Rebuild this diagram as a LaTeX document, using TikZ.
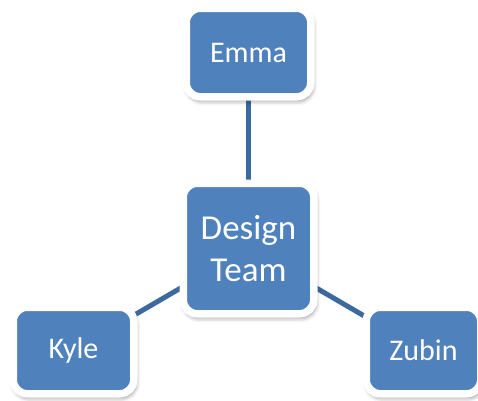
\documentclass[tikz,border=0pt]{standalone}
\usepackage{fontspec}
\setmainfont{Carlito}
\usetikzlibrary{shadows.blur,backgrounds}
\definecolor{boxblue}{HTML}{4F81BD}
\definecolor{linkblue}{HTML}{3C6A9E}
\begin{document}
\begin{tikzpicture}[x=1pt,y=-1pt,
  member/.style={fill=boxblue, draw=white, line width=7.5pt, rounded corners=14pt,
    text=white, font=\fontsize{30}{36}\selectfont, inner sep=0pt, align=center,
    blur shadow={shadow xshift=1.5pt, shadow yshift=-3.5pt, shadow blur radius=5pt, shadow opacity=55}},
  link/.style={draw=linkblue, line width=5pt}]
\useasboundingbox (0,0) rectangle (478,400);

% team members and the team itself
\node[member, minimum width=124.5pt, minimum height=88.5pt] (emma) at (248.5,52.5) {Emma};
\node[member, minimum width=130.5pt, minimum height=130.5pt,
      font=\fontsize{35}{42}\selectfont] (team) at (248.5,248.5) {Design\\Team};
\node[member, minimum width=120.5pt, minimum height=86.5pt] (kyle) at (73.5,350.5) {Kyle};
\node[member, minimum width=114.5pt, minimum height=86.5pt] (zubin) at (423.5,350.5) {Zubin};

% links behind the boxes
\begin{scope}[on background layer]
  \draw[link] (team.center) -- (emma.center);
  \draw[link] (team.center) -- (kyle.center);
  \draw[link] (team.center) -- (zubin.center);
\end{scope}
\end{tikzpicture}
\end{document}
